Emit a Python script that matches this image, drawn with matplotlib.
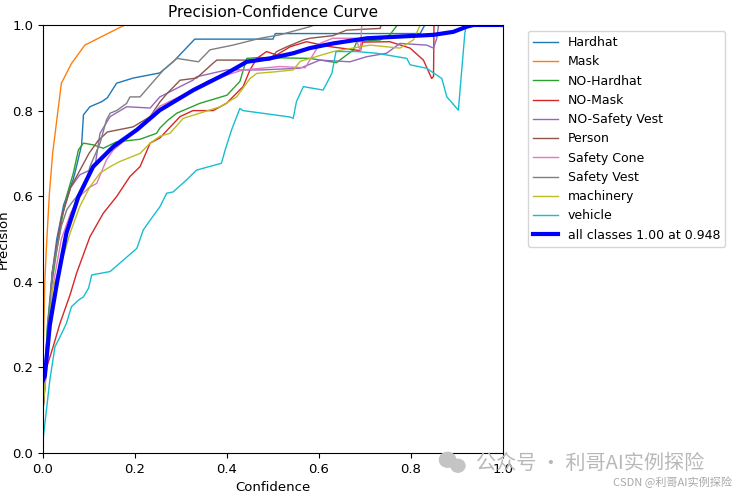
import matplotlib
matplotlib.use("Agg")
import matplotlib.pyplot as plt
from matplotlib.patches import Ellipse

# Значення (confidence, precision)
classes = ["Hardhat", "Mask", "NO-Hardhat", "NO-Mask", "NO-Safety Vest",
           "Person", "Safety Cone", "Safety Vest", "machinery", "vehicle"]

hardhat_x = [0, 0.01, 0.02, 0.03, 0.045, 0.066, 0.073, 0.084, 0.088, 0.102, 0.128, 0.14, 0.16,
             0.196, 0.254, 0.283, 0.33, 0.5, 0.505, 0.82, 0.83, 1.0]
hardhat_y = [0.12, 0.3, 0.42, 0.5, 0.58, 0.64, 0.67, 0.72, 0.79, 0.809, 0.821, 0.83, 0.864,
             0.876, 0.888, 0.914, 0.967, 0.967, 0.98, 0.98, 1.0, 1.0]

mask_x = [0, 0.002, 0.004, 0.007, 0.01, 0.014, 0.021, 0.03, 0.04, 0.062, 0.091, 0.174, 0.18, 1.0]
mask_y = [0.22, 0.3, 0.4, 0.47, 0.53, 0.607, 0.70, 0.778, 0.864, 0.91, 0.953, 0.998, 1.0, 1.0]

no_hardhat_x = [0, 0.01, 0.02, 0.03, 0.041, 0.051, 0.066, 0.077, 0.088, 0.109, 0.131, 0.16, 0.211,
                0.247, 0.254, 0.272, 0.291, 0.341, 0.40, 0.428, 0.443, 0.472, 0.58, 0.638, 0.675,
                0.682, 0.733, 0.754, 0.769, 0.77, 1.0]
no_hardhat_y = [0.1, 0.3, 0.4, 0.474, 0.544, 0.599, 0.654, 0.708, 0.724, 0.72, 0.712, 0.727, 0.733,
                0.747, 0.759, 0.778, 0.794, 0.817, 0.836, 0.868, 0.922, 0.924, 0.922, 0.912, 0.942,
                0.961, 0.965, 0.977, 0.998, 1.0, 1.0]

no_mask_x = [0, 0.008, 0.022, 0.037, 0.059, 0.073, 0.102, 0.131, 0.16, 0.189, 0.211, 0.233, 0.254,
             0.298, 0.326, 0.37, 0.399, 0.435, 0.45, 0.465, 0.486, 0.508, 0.537, 0.573, 0.62, 0.69,
             0.695, 0.754, 0.798, 0.827, 0.845, 0.849, 0.85, 1.0]
no_mask_y = [0.1, 0.20, 0.248, 0.303, 0.37, 0.42, 0.505, 0.56, 0.599, 0.646, 0.669, 0.724, 0.736,
             0.786, 0.80, 0.80, 0.817, 0.856, 0.895, 0.922, 0.938, 0.93, 0.949, 0.961, 0.95, 0.94,
             0.96, 0.961, 0.946, 0.918, 0.875, 0.88, 1.0, 1.0]

no_vest_x = [0, 0.02, 0.04, 0.06, 0.08, 0.1, 0.113, 0.124, 0.146, 0.182, 0.233, 0.254, 0.298, 0.326,
             0.334, 0.399, 0.472, 0.559, 0.602, 0.667, 0.704, 0.747, 0.776, 0.834, 0.849, 0.856,
             0.86, 1.0]
no_vest_y = [0.1, 0.42, 0.55, 0.62, 0.65, 0.66, 0.669, 0.747, 0.786, 0.809, 0.806, 0.832, 0.856,
             0.871, 0.879, 0.895, 0.895, 0.899, 0.918, 0.914, 0.926, 0.934, 0.957, 0.953, 0.946,
             0.969, 1.0, 1.0]

person_x = [0, 0.02, 0.04, 0.06, 0.08, 0.1, 0.12, 0.14, 0.196, 0.233, 0.254, 0.269, 0.298, 0.334,
            0.37, 0.378, 0.457, 0.493, 0.508, 0.53, 0.566, 0.58, 0.63, 0.66, 0.733, 0.735, 1.0]
person_y = [0.1, 0.42, 0.55, 0.62, 0.66, 0.70, 0.73, 0.75, 0.762, 0.786, 0.82, 0.839, 0.871, 0.876,
            0.911, 0.918, 0.918, 0.918, 0.938, 0.949, 0.965, 0.969, 0.975, 0.988, 0.992, 1.0, 1.0]

cone_x = [0, 0.02, 0.04, 0.06, 0.08, 0.1, 0.117, 0.138, 0.153, 0.2, 0.254, 0.326, 0.36, 0.435,
          0.515, 0.57, 0.602, 0.63, 0.68, 0.69, 0.693, 1.0]
cone_y = [0.1, 0.38, 0.5, 0.56, 0.6, 0.62, 0.63, 0.685, 0.708, 0.75, 0.81, 0.848, 0.87, 0.895,
          0.903, 0.90, 0.957, 0.969, 0.969, 0.94, 1.0, 1.0]

vest_x = [0, 0.02, 0.04, 0.052, 0.062, 0.091, 0.102, 0.124, 0.138, 0.146, 0.16, 0.182, 0.189, 0.211,
          0.24, 0.262, 0.291, 0.338, 0.363, 0.413, 0.472, 0.515, 0.58, 0.59, 1.0]
vest_y = [0.1, 0.42, 0.53, 0.569, 0.584, 0.622, 0.669, 0.724, 0.778, 0.794, 0.80, 0.817, 0.832,
          0.832, 0.868, 0.895, 0.922, 0.914, 0.942, 0.953, 0.969, 0.977, 0.996, 1.0, 1.0]

machinery_x = [0, 0.02, 0.044, 0.059, 0.08, 0.102, 0.124, 0.146, 0.167, 0.211, 0.233, 0.254, 0.276,
               0.305, 0.341, 0.385, 0.421, 0.45, 0.465, 0.508, 0.544, 0.559, 0.631, 0.711, 0.776,
               0.805, 0.82, 1.0]
machinery_y = [0.1, 0.38, 0.459, 0.514, 0.576, 0.622, 0.654, 0.669, 0.681, 0.70, 0.724, 0.74, 0.747,
               0.782, 0.794, 0.809, 0.832, 0.875, 0.887, 0.891, 0.895, 0.915, 0.938, 0.953, 0.946,
               0.965, 1.0, 1.0]

vehicle_x = [0, 0.015, 0.026, 0.041, 0.051, 0.062, 0.077, 0.088, 0.099, 0.106, 0.146, 0.204, 0.218,
             0.233, 0.254, 0.269, 0.283, 0.312, 0.334, 0.388, 0.396, 0.41, 0.428, 0.435, 0.537,
             0.544, 0.551, 0.566, 0.609, 0.628, 0.637, 0.682, 0.725, 0.769, 0.791, 0.798, 0.834,
             0.867, 0.878, 0.903, 0.917, 0.92, 1.0]
vehicle_y = [0.03, 0.171, 0.248, 0.28, 0.303, 0.342, 0.357, 0.365, 0.385, 0.416, 0.424, 0.478, 0.521,
             0.544, 0.575, 0.607, 0.61, 0.638, 0.661, 0.677, 0.708, 0.755, 0.805, 0.80, 0.785,
             0.782, 0.821, 0.856, 0.848, 0.887, 0.938, 0.938, 0.934, 0.926, 0.922, 0.907, 0.899,
             0.875, 0.832, 0.801, 0.98, 1.0, 1.0]

all_x = [0, 0.004, 0.015, 0.03, 0.051, 0.077, 0.109, 0.153, 0.204, 0.254, 0.327, 0.399, 0.443,
         0.493, 0.544, 0.580, 0.631, 0.704, 0.776, 0.849, 0.892, 0.921, 0.936, 1.0]
all_y = [0.17, 0.18, 0.30, 0.395, 0.514, 0.599, 0.669, 0.716, 0.755, 0.801, 0.848, 0.887, 0.914,
         0.922, 0.934, 0.946, 0.957, 0.969, 0.973, 0.977, 0.984, 0.996, 1.0, 1.0]

series = [(hardhat_x, hardhat_y), (mask_x, mask_y), (no_hardhat_x, no_hardhat_y),
          (no_mask_x, no_mask_y), (no_vest_x, no_vest_y), (person_x, person_y),
          (cone_x, cone_y), (vest_x, vest_y), (machinery_x, machinery_y), (vehicle_x, vehicle_y)]

plt.rcParams["font.size"] = 9.5

fig = plt.figure(figsize=(7.41, 4.96), dpi=100)
ax = fig.add_axes([0.058, 0.0867, 0.6208, 0.8629])

for name, (xs, ys) in zip(classes, series):
    ax.plot(xs, ys, linewidth=1, label=name)
ax.plot(all_x, all_y, linewidth=3, color="blue", label="all classes 1.00 at 0.948")

ax.set_xlim(0, 1)
ax.set_ylim(0, 1)
ax.set_xlabel("Confidence")
ax.set_ylabel("Precision", labelpad=2)
ax.set_title("Precision-Confidence Curve", fontsize=11)
ax.legend(bbox_to_anchor=(1.04, 1), loc="upper left", fontsize=9)

# водяні знаки
cjk = ["Noto Sans CJK SC", "DejaVu Sans"]
fig.add_artist(Ellipse((0.604, 0.073), 0.022, 0.03, color="#c4c4c4", transform=fig.transFigure))
fig.add_artist(Ellipse((0.618, 0.061), 0.019, 0.026, color="#c4c4c4", transform=fig.transFigure))
fig.text(0.643, 0.066, "公众号 · 利哥AI实例探险", family=cjk, fontsize=14.5,
         color="#b8b8b8", va="center")
fig.text(0.988, 0.028, "CSDN @利哥AI实例探险", family=cjk, fontsize=8,
         color="#a8a8a8", va="center", ha="right")

fig.savefig("out.png", dpi=100)
